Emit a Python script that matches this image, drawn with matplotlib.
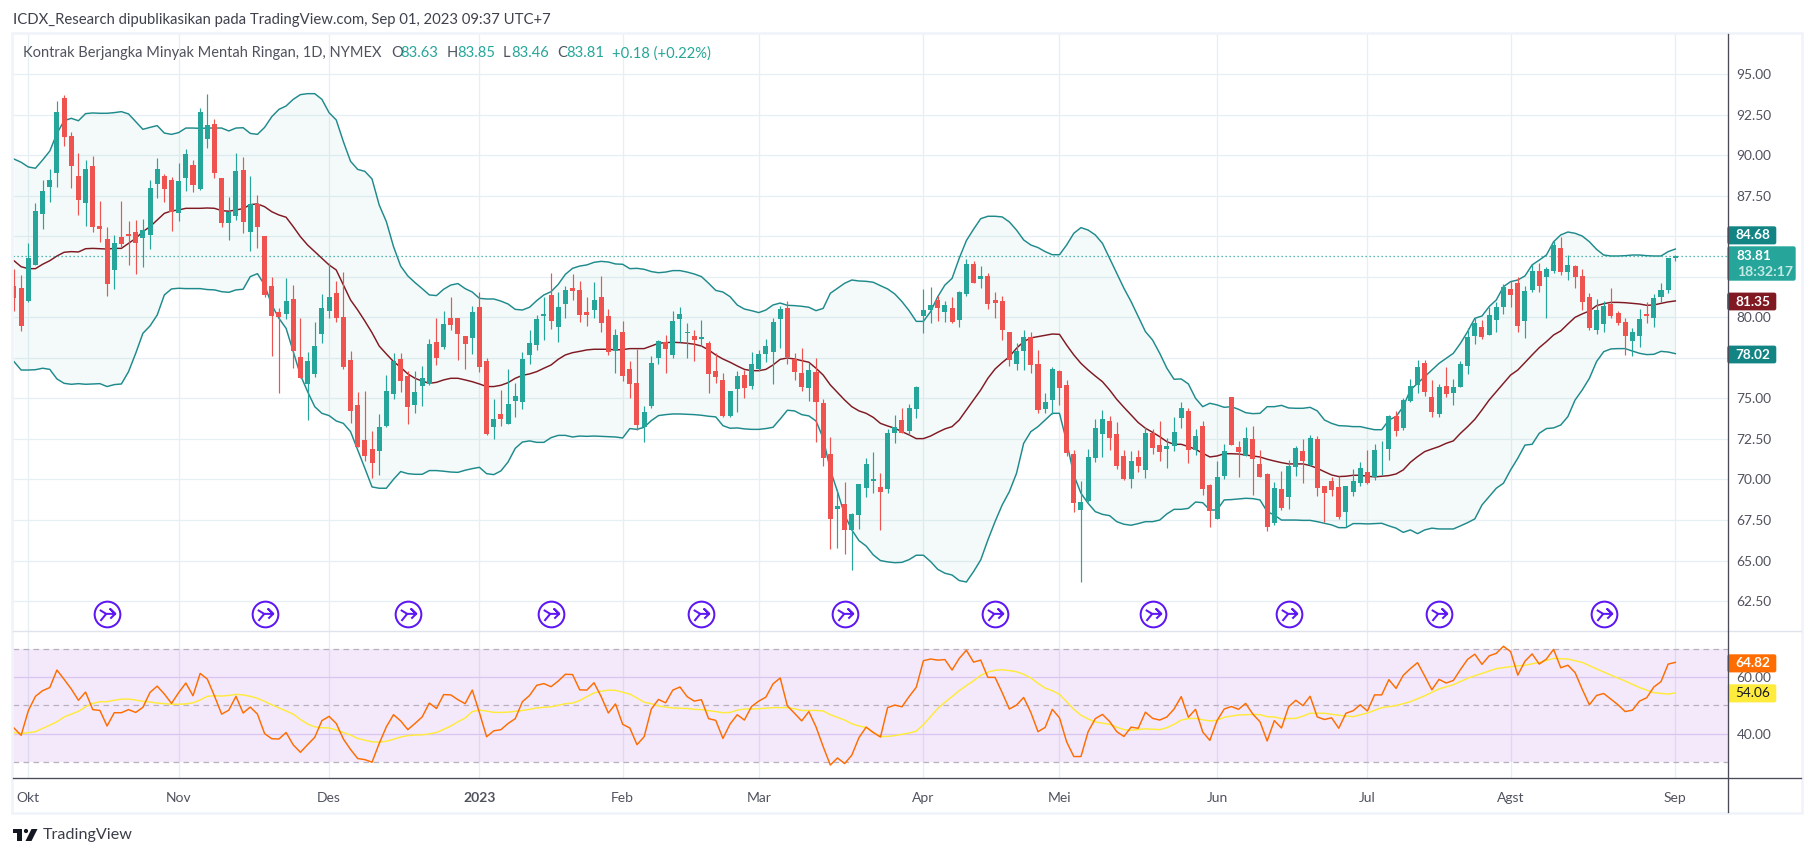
#!/usr/bin/env python3
import numpy as np
import matplotlib
matplotlib.use('Agg')
import matplotlib.pyplot as plt
from matplotlib.patches import Rectangle, Polygon, Circle, FancyBboxPatch
from matplotlib.path import Path

plt.rcParams['font.family'] = ['Lato', 'DejaVu Sans']

# daily candles, one row of ten per line
opens = [
    81.93,81.81,81.0,83.23,86.39,88.04,88.9,93.52,91.18,88.71,
    87.05,89.33,85.63,84.83,82.92,84.95,85.14,85.26,84.89,85.08,
    88.22,88.71,88.47,86.43,88.59,89.39,87.91,91.0,91.92,88.59,
    85.82,86.25,89.08,85.26,86.99,85.01,81.93,80.33,80.21,81.13,
    77.55,75.89,76.51,78.97,80.39,81.5,80.02,77.37,74.6,72.44,
    71.88,71.76,73.3,75.27,77.43,76.38,74.6,75.77,75.89,78.48,
    78.17,79.96,79.96,78.85,78.73,80.64,77.31,73.24,74.04,73.42,
    74.84,74.78,77.68,78.29,80.08,81.38,79.4,80.82,81.81,81.69,
    80.33,80.45,81.25,80.08,77.92,79.1,76.81,75.95,73.24,74.53,
    77.49,78.48,77.68,79.9,79.03,78.85,78.66,78.42,76.69,76.14,
    73.92,75.58,76.44,75.77,76.81,77.74,77.86,79.9,80.58,77.43,
    76.57,75.64,76.63,74.72,71.57,68.18,68.49,66.89,67.81,69.48,
    69.91,69.54,69.42,72.87,73.67,72.99,74.35,80.08,80.45,81.07,
    80.33,80.58,79.84,81.44,83.29,82.36,82.55,81.07,81.01,79.1,
    77.12,77.92,78.79,77.12,74.35,74.9,76.69,75.83,71.57,68.12,
    68.68,71.33,72.81,73.61,72.81,71.45,70.03,71.39,70.59,72.87,
    72.13,71.88,72.07,73.77,74.23,71.82,73.3,69.66,67.57,70.22,
    75.09,72.01,71.45,72.5,70.96,70.34,67.32,69.42,68.92,70.77,
    71.76,70.9,72.5,69.6,69.91,69.54,68.0,69.23,69.79,70.46,
    70.16,71.8,71.88,73.92,73.18,74.84,75.83,77.18,75.09,74.04,
    75.77,75.33,75.7,77.0,78.85,79.4,78.91,79.84,80.64,81.75,
    82.12,79.77,81.69,82.86,82.49,82.86,84.27,82.79,83.16,82.55,
    81.25,79.22,79.59,80.82,80.27,79.71,78.54,78.85,80.21,79.96,
    81.25,81.69,83.63]
highs = [
    82.98,82.61,84.56,87.03,88.47,89.15,93.34,93.71,91.43,90.13,
    89.7,89.95,87.17,85.57,85.08,87.17,85.94,86.0,86.06,88.47,
    89.82,88.84,88.67,89.51,90.38,89.7,92.9,93.77,92.23,88.59,
    87.42,90.13,89.88,88.71,87.54,85.01,82.47,80.58,82.42,81.99,
    79.96,77.86,79.71,81.44,83.33,82.24,82.8,77.92,75.4,75.46,
    72.99,74.04,76.44,77.8,77.8,76.69,76.69,77.0,78.66,79.96,
    80.39,81.25,79.96,78.85,80.7,81.56,77.49,74.96,75.52,76.81,
    75.95,77.86,79.22,80.14,81.25,82.73,81.56,81.93,82.67,82.24,
    81.25,82.18,82.55,80.51,79.28,79.77,77.31,78.05,74.53,77.62,
    78.6,78.91,80.39,80.64,79.65,79.22,79.84,78.54,77.8,76.57,
    75.46,76.69,76.75,77.86,77.99,78.66,79.96,80.7,81.01,77.8,
    78.11,77.18,77.49,74.96,72.62,69.42,69.85,67.94,69.72,71.33,
    71.7,70.4,73.12,73.98,74.41,74.66,75.77,81.75,81.87,81.32,
    81.01,81.25,81.62,83.6,83.47,83.16,82.73,81.56,81.32,79.1,
    78.42,79.22,79.1,77.99,75.33,76.94,76.75,76.14,71.82,69.91,
    71.88,73.73,74.29,73.92,73.55,71.82,71.76,71.82,73.24,73.12,
    73.61,72.56,73.86,74.76,74.41,73.12,73.61,69.72,71.14,72.19,
    75.09,72.38,73.24,73.3,71.82,70.4,69.85,70.53,71.2,72.07,
    72.5,72.75,72.68,69.6,70.16,70.22,69.6,70.65,71.08,71.82,
    72.19,72.38,73.98,74.23,75.03,76.2,77.37,77.37,76.14,75.89,
    76.94,76.2,77.31,79.34,79.96,79.84,80.64,80.95,82.06,82.24,
    82.49,81.93,83.29,83.35,83.1,84.71,84.95,83.84,83.23,82.98,
    81.5,81.13,81.01,81.81,80.39,79.96,79.34,80.51,80.95,81.44,
    82.12,83.66,83.85]
lows = [
    80.39,79.16,80.97,83.2,85.45,87.11,88.04,90.56,87.97,86.31,
    85.63,85.26,84.64,81.32,81.75,84.34,83.23,82.67,83.1,84.21,
    87.36,87.11,85.32,85.94,87.79,87.73,87.85,90.44,88.59,85.57,
    84.77,86.0,85.2,84.09,84.27,81.27,77.62,75.33,79.9,76.88,
    76.26,73.67,76.32,78.42,79.96,79.71,76.81,73.49,72.0,71.14,
    70.09,70.28,73.24,74.96,75.4,73.42,74.1,74.53,75.83,77.06,
    78.05,79.22,77.37,76.81,77.74,76.63,72.75,72.5,73.3,73.42,
    73.86,74.35,77.12,77.99,78.6,79.28,78.48,79.96,81.07,79.71,
    79.47,79.96,79.1,77.68,76.57,76.07,75.03,73.05,72.31,74.41,
    77.12,76.57,77.49,78.48,77.49,77.31,78.23,75.33,75.95,73.86,
    73.86,74.16,75.03,75.58,76.69,77.25,75.89,78.11,77.12,76.14,
    75.46,74.84,72.31,70.83,65.72,65.78,65.41,64.42,66.95,68.92,
    69.17,66.89,69.17,72.25,72.87,72.75,73.79,79.03,79.65,79.77,
    79.71,79.65,79.4,81.32,82.12,81.81,80.51,79.96,78.6,77.0,
    76.75,76.75,76.57,74.1,74.1,74.04,74.6,71.45,68.0,63.68,
    68.61,71.08,71.39,71.82,70.65,69.97,69.48,70.46,70.09,71.57,
    71.14,70.71,71.76,73.18,71.02,71.51,69.05,67.07,67.57,70.03,
    72.13,70.16,71.45,69.05,70.16,66.83,67.2,68.12,68.18,70.22,
    69.79,70.83,68.98,67.38,68.98,67.57,67.07,68.98,69.6,69.72,
    69.97,70.28,71.2,72.68,73.05,74.78,75.33,75.15,73.86,73.86,
    75.09,74.6,75.7,76.51,78.36,78.66,78.91,79.1,80.21,80.64,
    79.1,78.73,81.56,81.56,79.96,82.73,82.61,82.3,81.81,80.45,
    79.22,78.97,79.1,79.96,79.53,77.68,77.62,78.17,79.65,79.4,
    80.95,81.5,83.46]
closes = [
    81.21,79.47,83.66,86.56,87.79,88.47,92.66,91.12,89.33,87.23,
    89.15,85.57,85.45,82.06,84.58,84.52,85.01,84.58,85.38,87.97,
    89.15,87.91,86.49,88.41,90.07,88.16,92.66,91.86,88.9,85.82,
    86.49,89.02,85.88,86.99,85.57,81.38,80.08,80.0,81.0,77.92,
    76.26,77.31,78.23,80.58,81.25,79.96,76.94,74.23,72.01,71.45,
    71.02,73.24,75.46,77.31,76.07,74.47,75.4,76.26,78.36,77.49,
    79.59,79.53,78.97,78.36,80.33,76.94,72.81,73.73,73.73,74.66,
    75.15,77.43,78.42,79.9,80.21,79.77,80.64,81.69,81.62,80.14,
    80.14,81.07,79.65,77.86,78.91,76.38,75.89,73.36,74.16,77.18,
    78.54,78.05,79.77,80.21,79.1,78.6,78.79,76.51,76.32,73.92,
    75.46,76.38,75.64,77.12,77.74,78.23,79.71,80.51,77.55,76.63,
    75.7,76.75,74.78,71.33,67.57,68.37,66.89,67.88,69.72,70.96,
    70.03,69.23,72.87,73.24,72.87,74.41,75.7,80.45,80.76,80.58,
    80.76,79.71,81.56,83.29,82.12,82.55,80.82,80.88,79.22,77.37,
    77.92,78.79,77.06,74.29,74.78,76.81,75.64,71.64,68.55,68.61,
    71.39,73.18,73.73,72.56,70.83,70.03,71.14,70.83,72.87,71.94,
    71.7,72.07,72.93,74.39,71.82,72.68,69.42,68.06,70.16,71.76,
    72.13,71.7,72.56,71.27,70.16,67.07,69.48,68.24,70.83,71.94,
    71.14,72.56,69.48,69.17,69.35,67.69,69.6,69.91,70.71,69.79,
    71.82,71.84,73.92,72.99,74.9,75.77,76.94,75.4,74.16,75.7,
    75.27,75.7,77.12,78.79,79.65,78.79,80.14,80.64,81.87,81.38,
    79.47,81.62,82.86,81.93,82.98,84.46,82.79,83.23,82.49,80.95,
    79.34,80.45,80.7,80.08,79.65,78.85,79.1,79.9,80.08,81.19,
    81.69,83.66,83.81]

# bollinger bands
bb_upper = [
    89.76,89.56,89.27,89.19,89.7,90.25,91.34,92.12,92.27,92.12,
    92.56,92.6,92.58,92.58,92.62,92.68,92.54,92.06,91.59,91.71,
    91.82,91.36,91.28,91.39,91.67,91.67,91.65,91.67,91.67,91.67,
    91.49,91.67,91.69,91.34,91.28,91.71,92.37,92.82,93.03,93.44,
    93.73,93.79,93.79,93.44,92.62,92.17,90.83,89.62,89.12,89.0,
    88.53,86.93,85.9,84.36,83.16,82.55,82.14,81.77,81.38,81.34,
    81.73,81.99,82.08,81.77,81.56,81.17,81.13,81.13,81.0,80.82,
    80.49,80.45,80.62,81.03,81.38,81.58,82.03,82.65,83.02,83.16,
    83.23,83.39,83.45,83.41,83.29,83.27,83.0,83.02,82.96,82.82,
    82.75,82.79,82.88,82.88,82.79,82.67,82.51,82.1,81.66,81.56,
    81.27,80.76,80.51,80.41,80.29,80.45,80.76,80.88,80.74,80.72,
    80.68,80.62,80.41,80.55,81.48,81.79,82.1,82.3,82.24,82.22,
    82.16,81.95,81.75,81.44,80.97,80.41,79.75,79.75,80.35,81.27,
    81.99,82.4,83.64,84.73,85.43,86.08,86.23,86.23,86.19,85.88,
    85.38,84.77,84.46,84.3,84.05,83.86,83.86,84.46,85.18,85.53,
    85.38,85.08,84.56,83.64,82.71,81.79,80.97,80.04,79.12,78.6,
    77.78,76.86,76.18,76.2,75.89,75.01,74.49,74.7,74.6,74.45,
    74.49,74.33,74.12,74.06,74.08,74.49,74.49,74.57,74.41,74.39,
    74.39,74.45,74.23,73.67,73.46,73.32,73.3,73.26,73.26,73.16,
    73.07,73.07,73.67,73.88,74.49,75.52,75.93,76.34,76.75,77.16,
    77.47,77.78,78.4,79.12,79.94,80.08,80.66,81.07,81.89,82.2,
    82.3,82.55,83.23,83.53,83.84,84.66,85.08,85.26,85.18,85.01,
    84.66,84.19,83.84,83.78,83.78,83.8,83.84,83.84,83.8,83.78,
    83.78,84.05,84.21]
bb_mid = [
    83.49,83.12,83.0,83.0,83.27,83.49,83.78,84.01,84.05,84.03,
    84.23,84.25,84.23,84.21,84.25,84.25,84.56,84.87,85.28,85.59,
    86.0,86.41,86.56,86.62,86.72,86.72,86.72,86.74,86.72,86.58,
    86.54,86.62,86.7,86.95,86.99,86.82,86.51,86.31,86.17,85.59,
    84.97,84.46,84.05,83.64,83.23,82.92,81.99,81.07,80.45,79.77,
    79.05,78.23,77.74,77.27,76.92,76.51,76.24,76.07,75.93,75.99,
    76.14,76.24,76.24,76.14,76.03,75.89,75.73,75.73,75.81,75.97,
    76.24,76.42,76.51,76.65,76.86,77.06,77.41,77.68,77.82,77.9,
    77.99,78.03,78.03,78.03,77.99,78.01,78.07,78.07,78.07,78.23,
    78.4,78.44,78.46,78.44,78.4,78.34,78.23,77.99,77.68,77.43,
    77.23,77.0,76.79,76.71,76.71,76.79,77.06,77.41,77.49,77.43,
    77.33,77.23,76.86,76.44,75.83,75.36,74.9,74.49,74.23,74.08,
    73.83,73.46,73.3,73.16,72.95,72.75,72.52,72.52,72.68,72.91,
    73.12,73.26,73.67,74.29,74.9,75.52,76.24,76.81,77.21,77.57,
    78.09,78.5,78.73,78.81,78.89,78.97,78.95,78.29,77.68,77.16,
    76.75,76.38,76.03,75.52,74.94,74.45,73.98,73.51,73.16,72.91,
    72.64,72.33,72.17,72.17,72.03,71.86,71.62,71.39,71.45,71.59,
    71.59,71.57,71.51,71.45,71.39,71.25,71.14,71.04,70.96,70.96,
    70.96,70.86,70.69,70.48,70.28,70.18,70.2,70.26,70.26,70.2,
    70.16,70.2,70.24,70.34,70.59,71.06,71.41,71.72,71.88,72.03,
    72.23,72.38,72.85,73.26,73.71,74.29,74.9,75.42,75.93,76.44,
    76.75,77.21,77.68,78.13,78.5,78.91,79.16,79.59,80.0,80.21,
    80.39,80.72,80.84,80.92,80.92,80.9,80.86,80.82,80.74,80.76,
    80.86,80.95,81.01]
bb_lower = [
    77.27,76.75,76.75,76.77,76.86,76.79,76.2,75.93,75.87,75.91,
    75.87,75.89,75.91,75.73,75.85,75.89,76.65,77.78,79.01,79.47,
    80.14,81.38,81.75,81.79,81.77,81.77,81.77,81.71,81.69,81.58,
    81.54,81.69,81.73,82.51,82.69,81.99,80.76,79.94,79.32,77.88,
    76.44,75.42,74.49,74.08,73.94,73.61,73.46,72.95,71.82,70.69,
    69.54,69.46,69.46,70.01,70.49,70.36,70.32,70.32,70.55,70.55,
    70.51,70.46,70.44,70.57,70.67,70.75,70.36,70.3,70.53,71.08,
    71.92,72.31,72.38,72.29,72.29,72.58,72.72,72.72,72.62,72.68,
    72.66,72.68,72.66,72.64,72.62,72.56,73.14,73.09,73.22,73.63,
    73.94,74.0,74.04,74.04,74.02,74.0,73.96,73.9,73.86,73.32,
    73.16,73.18,73.12,73.09,73.09,73.14,73.22,73.73,74.27,74.23,
    74.0,73.92,73.61,72.54,70.59,69.25,67.81,66.89,66.23,65.9,
    65.35,65.0,64.92,64.87,64.89,65.06,65.33,65.33,64.94,64.46,
    64.22,64.11,63.77,63.68,64.32,65.04,66.27,67.4,68.43,69.25,
    70.38,72.23,72.95,73.26,73.67,74.08,74.08,72.33,70.28,69.15,
    68.53,68.02,67.85,67.77,67.4,67.24,67.18,67.28,67.4,67.4,
    67.5,67.88,68.16,68.16,68.22,68.61,68.57,68.12,68.12,68.74,
    68.76,68.8,68.84,68.82,68.74,68.02,67.81,67.5,67.5,67.5,
    67.48,67.48,67.4,67.3,67.2,67.03,67.03,67.28,67.28,67.26,
    67.28,67.3,67.14,67.0,66.74,66.89,66.66,66.89,67.0,66.95,
    66.95,66.95,67.14,67.34,67.57,68.43,68.94,69.46,69.77,70.59,
    71.31,72.12,72.17,72.85,73.14,73.18,73.36,73.88,74.9,75.52,
    76.24,77.27,77.88,78.05,78.07,78.07,77.92,77.78,77.7,77.72,
    77.9,77.86,77.76]

# rsi and its moving average
rsi = [
    42.0,39.4,48.1,53.2,55.2,56.3,62.5,59.2,55.8,51.8,
    54.7,48.5,48.2,42.7,47.4,47.4,48.5,47.5,49.3,54.6,
    56.8,54.0,50.7,54.5,57.9,53.4,61.3,59.3,53.3,46.9,
    48.3,53.2,47.3,49.4,46.9,40.0,38.2,38.1,40.4,36.0,
    33.4,36.1,38.7,44.6,46.1,43.6,38.1,34.4,31.2,30.8,
    29.9,36.5,42.4,46.7,44.5,41.4,43.6,45.9,50.8,48.9,
    53.8,53.7,52.0,50.6,55.4,47.4,38.9,41.0,41.4,43.6,
    45.3,51.3,53.5,57.1,57.7,56.6,58.6,61.0,60.9,55.5,
    55.4,58.0,53.1,47.3,50.5,43.3,42.0,36.1,38.9,48.7,
    52.1,50.9,55.4,56.5,53.1,51.5,52.0,45.3,44.7,38.3,
    43.4,46.7,44.8,49.6,51.5,52.9,57.6,59.7,49.8,47.2,
    44.5,47.8,42.4,35.4,28.9,31.4,29.4,32.4,38.6,42.3,
    40.4,38.8,49.2,50.1,49.5,53.1,56.4,65.8,66.4,66.0,
    66.2,62.5,66.6,69.5,65.3,66.0,59.9,59.9,54.5,48.7,
    50.1,52.8,47.5,40.7,42.2,48.6,45.6,37.1,31.9,31.9,
    40.7,45.3,46.8,44.3,40.7,39.0,42.3,41.9,47.6,45.4,
    44.8,45.9,48.7,53.1,45.8,48.6,40.6,37.6,44.6,48.7,
    49.6,48.6,50.7,46.9,44.2,37.4,44.6,42.0,49.5,51.8,
    49.9,53.2,45.9,45.0,45.6,41.9,47.2,48.1,50.2,48.0,
    53.7,53.7,59.1,56.0,60.6,63.0,65.1,60.4,55.5,59.2,
    57.9,58.8,62.7,66.3,68.1,64.5,67.5,68.4,70.9,69.0,
    60.7,65.6,68.2,64.6,66.4,69.8,63.3,64.2,61.6,55.7,
    50.2,53.5,54.2,52.2,50.2,47.8,48.3,51.5,52.7,56.5,
    58.4,64.6,65.2]
rsi_ma_idx = [0,1,3,5,6,7,8,9,10,11,12,13,14,15,16,17,18,19,20,21,22,23,24,25,26,27,28,29,30,31,32,33,34,35,36,37,38,39,
    40,41,42,43,44,45,46,47,48,49,50,51,52,53,54,55,56,57,58,59,60,61,62,63,64,65,66,67,68,69,70,71,72,73,74,75,76,77,78,79,
    80,81,82,83,84,86,87,88,89,90,91,92,94,95,96,98,99,100,101,102,104,106,108,109,110,112,113,114,116,117,118,119,
    120,121,122,123,125,126,127,128,129,130,131,132,133,134,135,136,137,138,139,140,141,142,143,144,145,146,147,148,149,
    150,151,152,153,154,155,156,158,160,161,162,163,164,165,166,167,168,169,171,173,174,175,176,177,179,180,181,183,185,187,189,
    191,193,195,197,199,201,203,205,207,209,211,213,215,217,219,221,223,225,227,229,231,232]
rsi_ma = [40.4,40.0,40.7,43.0,44.2,45.9,46.9,47.9,49.5,50.7,51.3,51.3,51.8,52.2,52.2,51.9,51.4,51.2,50.8,50.6,50.4,50.4,50.5,50.9,51.9,53.2,53.4,53.3,53.5,53.9,53.7,53.2,52.5,51.4,50.2,49.1,48.0,46.9,
    45.0,43.4,42.4,42.1,42.0,41.3,40.4,39.5,38.3,37.7,37.1,37.0,37.3,38.0,38.8,39.3,39.5,39.6,39.9,40.4,41.5,42.7,44.2,45.5,47.8,48.3,48.0,47.5,47.5,47.6,47.9,48.2,48.6,49.1,49.3,49.5,50.0,50.6,50.8,51.7,
    53.1,54.4,55.0,55.4,55.3,54.0,52.6,51.1,50.6,49.8,49.4,49.1,48.9,48.6,48.5,47.8,47.4,47.5,48.3,48.7,48.8,49.2,49.2,48.8,48.2,48.2,48.0,46.7,44.8,43.5,42.7,42.2,
    40.4,39.0,39.0,39.3,40.2,40.9,43.2,46.0,48.9,51.1,53.1,55.2,57.0,58.7,60.6,61.8,62.4,62.6,62.3,61.9,61.0,59.7,57.8,56.1,55.2,53.9,51.3,48.6,46.5,
    45.2,44.1,43.7,43.3,42.3,41.4,41.2,41.7,41.4,42.1,43.3,44.8,45.3,45.4,44.9,44.5,44.7,45.8,46.6,46.8,46.7,46.0,45.9,45.3,45.4,46.2,47.2,47.2,46.5,46.0,47.3,
    49.2,49.9,51.3,53.4,55.8,57.3,59.6,61.3,63.0,63.7,64.2,65.2,66.6,66.4,65.2,62.9,60.7,58.6,56.3,54.5,54.0,54.4]

month_idx = [2, 23, 44, 65, 85, 104, 127, 146, 168, 189, 209, 232]
month_labels = ['Okt', 'Nov', 'Des', '2023', 'Feb', 'Mar', 'Apr', 'Mei', 'Jun', 'Jul', 'Agst', 'Sep']
price_ticks = [62.5, 65, 67.5, 70, 72.5, 75, 77.5, 80, 82.5, 85, 87.5, 90, 92.5, 95]
# these three sit behind the value tags in the reference
hidden_ticks = [77.5, 82.5, 85]
icon_idx = [13, 35, 55, 75, 96, 116, 137, 159, 178, 199, 222]

GREEN = '#26a69a'
RED = '#ef5350'
BAND = '#1f8a8c'
MID = '#801922'
GRID = '#e6eff4'
TXT = '#50535e'
W, H = 1815, 857


def ax_rect(left, top, right, bottom):
    return [left / W, 1 - bottom / H, (right - left) / W, (bottom - top) / H]


fig = plt.figure(figsize=(W / 100, H / 100), dpi=100, facecolor='white')
ax = fig.add_axes(ax_rect(13.4, 33, 1727.6, 631.3))
ax2 = fig.add_axes(ax_rect(13.4, 631.3, 1727.6, 778.3), sharex=ax)

xs = np.arange(len(closes))
o, h, l, c = map(np.array, (opens, highs, lows, closes))
up = c >= o
cols = np.where(up, GREEN, RED)

ax.set_xlim(-0.08, 239.3)
ax.set_ylim(60.64, 97.53)
ax.set_yticks(price_ticks)
ax.grid(True, color=GRID, lw=0.9)
ax.set_axisbelow(True)

# bands
ax.fill_between(xs, bb_lower, bb_upper, color=GREEN, alpha=0.05, lw=0, zorder=1)
ax.plot(xs, bb_upper, color=BAND, lw=1.05, zorder=2)
ax.plot(xs, bb_lower, color=BAND, lw=1.05, zorder=2)
ax.plot(xs, bb_mid, color=MID, lw=1.05, zorder=2)

# candles
ax.vlines(xs, l, h, colors=cols, lw=0.85, zorder=3)
ax.bar(xs, np.abs(c - o), bottom=np.minimum(o, c), width=0.7, color=cols, lw=0, zorder=4)
ax.axhline(c[-1], color=GREEN, lw=0.9, ls=(0, (1, 2.2)), zorder=3)

# split markers above the rsi pane
glyph = Path.make_compound_path(
    Path.circle((0, 0), 1.0),
    Path([(-0.6, 0.35), (-0.1, 0.05), (0.6, 0.05), (0.22, 0.42), (0.6, 0.05), (0.22, -0.32)],
         [Path.MOVETO] + [Path.LINETO] * 5),
    Path([(-0.55, -0.5), (-0.1, 0.05)], [Path.MOVETO, Path.LINETO]))
ax.plot(icon_idx, [61.69] * len(icon_idx), ls='none', marker=glyph, ms=18.5,
        mfc='none', mec='#5d17f2', mew=1.45, zorder=5, clip_on=False)

# rsi pane
ax2.set_ylim(24.2, 76.2)
ax2.set_yticks([40, 60])
ax2.grid(True, color=GRID, lw=0.9)
ax2.set_axisbelow(True)
ax2.axhspan(30, 70, color='#9c27e0', alpha=0.105, lw=0, zorder=1)
ax2.grid(True, axis='y', color='#e0d9f4', lw=0.9)
for lvl in (70, 50, 30):
    ax2.axhline(lvl, color='#b9b0bf', lw=0.9, ls=(0, (4.5, 3.5)), zorder=2)
ax2.plot(rsi_ma_idx, rsi_ma, color='#ffeb3b', lw=1.05, zorder=3)
ax2.plot(xs, rsi, color='#ff6d00', lw=1.05, zorder=4)

ax2.set_xticks(month_idx)
ax2.set_xticklabels(month_labels)
ax2.get_xticklabels()[3].set_fontweight('bold')
ax2.get_xticklabels()[3].set_color('#434651')
ax2.tick_params(axis='x', length=0, pad=10, labelsize=10, labelcolor=TXT)
ax.tick_params(axis='x', length=0, labelbottom=False)

for a in (ax, ax2):
    a.yaxis.tick_right()
    a.tick_params(axis='y', length=0, pad=6.5, labelsize=9.9, labelcolor=TXT)
    for s in a.spines.values():
        s.set_visible(False)
ax.set_yticklabels(['' if t in hidden_ticks else '%.2f' % t for t in price_ticks])
ax2.set_yticklabels(['40.00', '60.00'])

# overlay in pixel coordinates for the widget chrome
ov = fig.add_axes([0, 0, 1, 1], zorder=10)
ov.set_xlim(0, W)
ov.set_ylim(H, 0)
ov.axis('off')
ov.patch.set_alpha(0)

ov.add_patch(Rectangle((12.5, 32.5), 1789.7, 780.5, fill=False, ec='#f0f3fa', lw=1.9))
ov.plot([13.4, 1801], [631.3, 631.3], color='#e0e3eb', lw=1.0)
ov.plot([13.4, 1801], [778.3, 778.3], color='#4a4b57', lw=0.95)
ov.plot([1727.6, 1727.6], [33.5, 812], color='#4a4b57', lw=0.95)

ov.text(13, 20, 'ICDX_Research dipublikasikan pada TradingView.com, Sep 01, 2023 09:37 UTC+7',
        fontsize=10.72, color='#3f424c', va='center')
ov.text(23.5, 53.3, 'Kontrak Berjangka Minyak Mentah Ringan, 1D, NYMEX', fontsize=10.57, color=TXT, va='center')
legend_bits = [(391, 'O', TXT), (400.5, '83.63', GREEN), (447, 'H', TXT), (457, '83.85', GREEN),
               (503, 'L', TXT), (511, '83.46', GREEN), (557, 'C', TXT), (566, '83.81', GREEN),
               (612, '+0.18 (+0.22%)', GREEN)]
for lx, s, col in legend_bits:
    ov.text(lx, 53.3, s, fontsize=10.6, color=col, va='center')


def tag(top, bottom, right, text, fc, tc='white', weight='bold'):
    ov.add_patch(FancyBboxPatch((1728, top + 1), right - 1729, bottom - top - 2,
                                boxstyle='round,pad=0,rounding_size=1.5', fc=fc, ec=fc, lw=1))
    ov.text(1753, (top + bottom) / 2, text, color=tc, fontsize=9.8, ha='center', va='center',
            fontweight=weight)


tag(226, 244.7, 1776.6, '84.68', '#138484')
tag(292.3, 310.7, 1776.6, '81.35', MID)
tag(345.3, 363.7, 1776.6, '78.02', '#138484')
tag(654, 672.7, 1776.6, '64.82', '#ff6d00')
tag(684, 702.7, 1776.6, '54.06', '#ffeb3b', tc='#131722', weight='normal')
ov.add_patch(FancyBboxPatch((1728, 247), 67, 33, boxstyle='round,pad=0,rounding_size=1.5',
                            fc=GREEN, ec=GREEN, lw=1))
ov.text(1736.7, 256.3, '83.81', color='white', fontsize=9.8, va='center', fontweight='bold')
ov.text(1737.5, 272, '18:32:17', color='#c4e9e4', fontsize=10.1, va='center', fontweight='bold')

# logo
ov.add_patch(Polygon([(12.7, 829), (22, 829), (22, 841), (17, 841), (17, 833), (12.7, 833)], fc='#131722', ec='none'))
ov.add_patch(Circle((26, 831), 2.1, fc='#131722', ec='none'))
ov.add_patch(Polygon([(31.5, 829), (37.5, 829), (31.5, 841), (25.5, 841)], fc='#131722', ec='none'))
ov.text(42.7, 835.5, 'TradingView', fontsize=11.6, color='#3a3d47', va='center')

fig.savefig('out.png', dpi=100)
